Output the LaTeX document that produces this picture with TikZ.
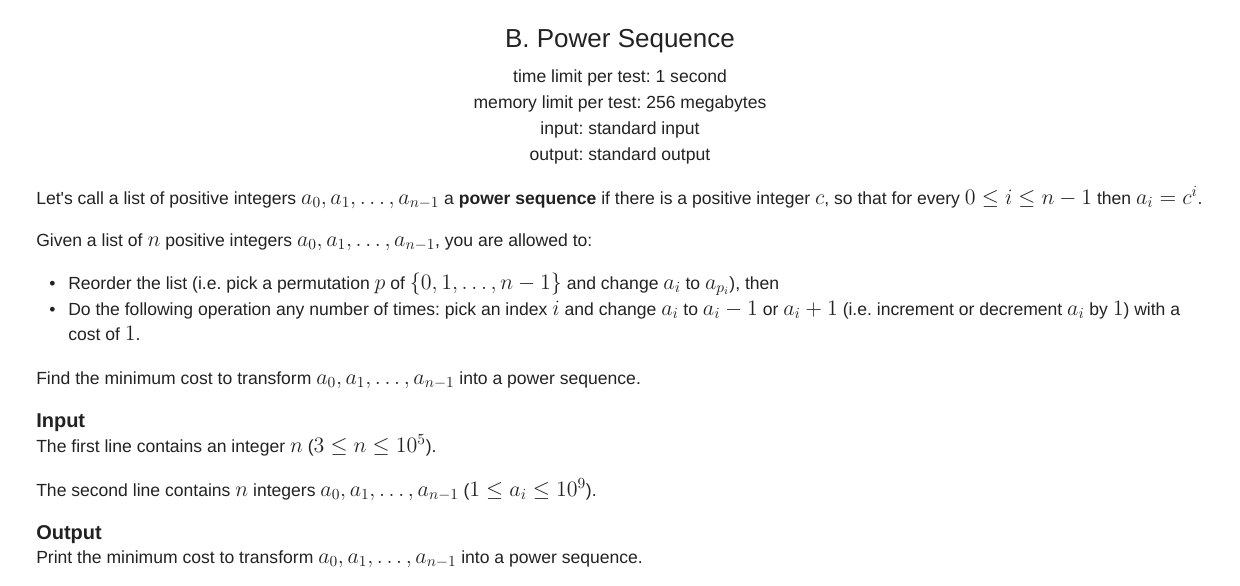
\RequirePackage{fix-cm}
\documentclass[tikz,border=0pt]{standalone}
\usepackage{amsmath, amssymb}
\usepackage[no-math]{fontspec}
\setmainfont{Liberation Sans}
\usepackage{tikz}

\definecolor{cfink}{HTML}{222222}
\newcommand{\mth}[1]{{\fontsize{16.5}{18}\selectfont$#1$}}
\frenchspacing

\begin{document}
\begin{tikzpicture}[x=0.75pt,y=0.75pt,yscale=-1,xscale=1,
    body/.style={anchor=base west,inner sep=0pt,text=cfink,font=\fontsize{13.17}{16}\selectfont},
    hdr/.style={anchor=base,inner sep=0pt,text=cfink,font=\fontsize{13.17}{16}\selectfont},
    sect/.style={anchor=base west,inner sep=0pt,text=cfink,font=\fontsize{15}{18}\selectfont\bfseries}]
        \useasboundingbox (0,0) rectangle (1240,586);

        % Text Node
        \draw (620,47) node [anchor=base][inner sep=0pt][text=cfink][font=\fontsize{19.5}{22}\selectfont] (title) {B. Power Sequence};
        % Text Node
        \draw (620,82) node [hdr] (tlim) {time limit per test: 1 second};
        % Text Node
        \draw (620,108) node [hdr] (mlim) {memory limit per test: 256 megabytes};
        % Text Node
        \draw (620,134) node [hdr] (inf) {input: standard input};
        % Text Node
        \draw (620,160) node [hdr] (outf) {output: standard output};

        % Text Node
        \draw (36,204) node [body] (para1) {Let\textquotesingle s call a list of positive integers \mth{a_{0}, a_{1}, \ldots, a_{n-1}} a \textbf{power sequence} if there is a positive integer \mth{c}, so that for every \mth{0 \le i \le n-1} then \mth{a_{i} = c^{i}}.};
        % Text Node
        \draw (36,246) node [body] (para2) {Given a list of \mth{n} positive integers \mth{a_{0}, a_{1}, \ldots, a_{n-1}}, you are allowed to:};
        % Text Node
        \draw (49,289) node [body] (dot1) {\textbullet};
        % Text Node
        \draw (68,289) node [body] (item1) {Reorder the list (i.e. pick a permutation \mth{p} of \mth{\{0, 1, \ldots, n-1\}} and change \mth{a_{i}} to \mth{a_{p_{i}}}), then};
        % Text Node
        \draw (49,315) node [body] (dot2) {\textbullet};
        % Text Node
        \draw (68,315) node [body] (item2) {Do the following operation any number of times: pick an index \mth{i} and change \mth{a_{i}} to \mth{a_{i}-1} or \mth{a_{i}+1} (i.e. increment or decrement \mth{a_{i}} by \mth{1}) with a};
        % Text Node
        \draw (68,340) node [body] (item2b) {cost of \mth{1}.};
        % Text Node
        \draw (36,384) node [body] (para3) {Find the minimum cost to transform \mth{a_{0}, a_{1}, \ldots, a_{n-1}} into a power sequence.};

        % Text Node
        \draw (36,427) node [sect] (inhead) {Input};
        % Text Node
        \draw (36,452) node [body] (in1) {The first line contains an integer \mth{n} (\mth{3 \le n \le 10^{5}}).};
        % Text Node
        \draw (36,496) node [body] (in2) {The second line contains \mth{n} integers \mth{a_{0}, a_{1}, \ldots, a_{n-1}} (\mth{1 \le a_{i} \le 10^{9}}).};

        % Text Node
        \draw (36,539) node [sect] (outhead) {Output};
        % Text Node
        \draw (36,563) node [body] (out1) {Print the minimum cost to transform \mth{a_{0}, a_{1}, \ldots, a_{n-1}} into a power sequence.};

\end{tikzpicture}
\end{document}
